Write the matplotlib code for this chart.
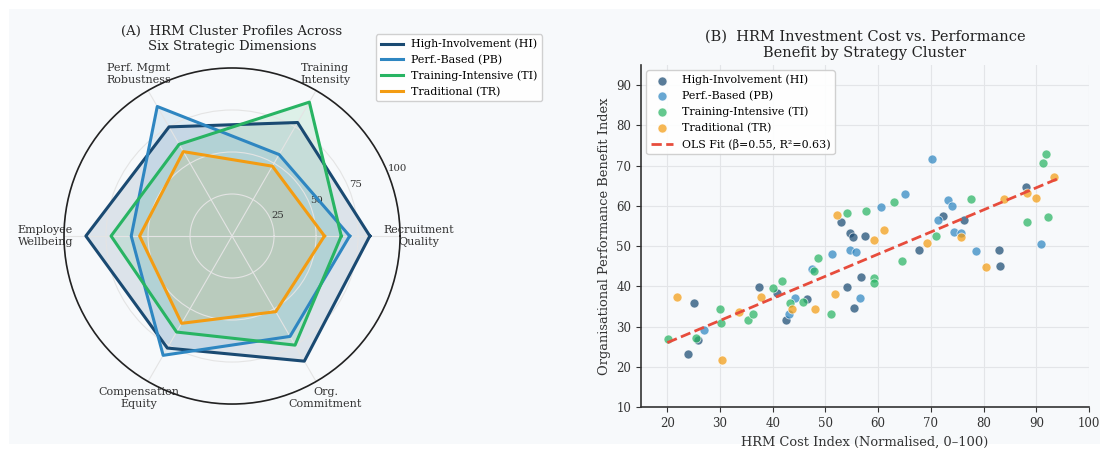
import numpy as np
import matplotlib
matplotlib.use("Agg")
import matplotlib.pyplot as plt
from matplotlib.patches import Rectangle

plt.rcParams['font.family'] = ['DejaVu Serif', 'DejaVu Sans']

# --- radar data ---
dimensions = ["Recruitment\nQuality", "Training\nIntensity", "Perf. Mgmt\nRobustness",
              "Employee\nWellbeing", "Compensation\nEquity", "Org.\nCommitment"]
clusters = ["High-Involvement (HI)", "Perf.-Based (PB)",
            "Training-Intensive (TI)", "Traditional (TR)"]
hi_profile = [82, 78, 75, 87, 77, 86]
pb_profile = [70, 56, 89, 60, 82, 69]
ti_profile = [65, 92, 63, 72, 66, 75]
tr_profile = [55, 48, 58, 55, 60, 52]
colors = ["#1a4a72", "#2e86c1", "#28b463", "#f39c12"]

# --- scatter data (cost, benefit) ---
hi_cost = [25.0, 24.0, 25.8, 37.3, 40.8, 42.6, 46.5, 53.0, 54.6, 55.2, 57.5, 54.0,
           55.5, 56.8, 67.7, 72.3, 76.3, 83.0, 83.1, 88.0]
hi_benefit = [35.9, 23.1, 26.7, 39.9, 38.4, 31.7, 36.9, 56.0, 53.3, 52.3, 52.4, 39.9,
              34.7, 42.4, 49.0, 57.5, 56.4, 49.0, 45.0, 64.8]
pb_cost = [27.0, 43.0, 44.3, 47.5, 51.2, 54.7, 55.8, 56.5, 60.5, 65.1, 70.2, 71.3,
           73.3, 74.0, 74.3, 75.7, 78.5, 90.9]
pb_benefit = [29.1, 33.0, 37.1, 44.2, 48.1, 49.0, 48.6, 37.0, 59.6, 62.9, 71.6, 56.4,
              61.4, 60.0, 53.6, 53.2, 48.7, 50.4]
ti_cost = [20.1, 25.5, 29.9, 30.1, 35.4, 36.2, 40.1, 41.7, 43.2, 45.8, 47.9, 48.6,
           51.0, 54.1, 57.6, 59.2, 59.2, 63.0, 64.6, 71.0, 77.7, 88.2, 91.2, 91.8, 92.3]
ti_benefit = [27.0, 27.1, 34.4, 30.9, 31.7, 33.2, 39.7, 41.2, 35.8, 36.0, 43.7, 47.0,
              33.0, 58.3, 58.6, 42.1, 40.9, 61.0, 46.2, 52.4, 61.6, 56.1, 70.6, 73.0, 57.2]
tr_cost = [21.9, 30.3, 33.6, 37.7, 43.6, 48.0, 51.9, 52.1, 59.3, 61.1, 69.3, 75.7,
           80.4, 83.8, 88.3, 89.9, 93.3]
tr_benefit = [37.3, 21.7, 33.5, 37.3, 34.4, 34.4, 38.2, 57.6, 51.5, 54.0, 50.8, 52.3,
              44.8, 61.6, 63.3, 61.9, 67.1]
ols_intercept = 15.0
ols_slope = 0.55
ols_range = [20, 94.5]

bg = "#f7f9fb"
fig = plt.figure(figsize=(11, 4.53), dpi=100, facecolor="white")
fig.patches.append(Rectangle((9 / 1100, 9 / 453), 1 - 9 / 1100, 1 - 18 / 453,
                             transform=fig.transFigure, facecolor=bg,
                             edgecolor="none", zorder=-10))

# ---------------- (A) radar ----------------
ax1 = fig.add_axes([0.0582, 0.106, 0.3055, 0.746], projection="polar")
ax1.set_facecolor(bg)
angles = np.linspace(0, 2 * np.pi, len(dimensions), endpoint=False)
closed = np.concatenate([angles, angles[:1]])
for name, vals, c in zip(clusters, [hi_profile, pb_profile, ti_profile, tr_profile], colors):
    v = np.concatenate([vals, vals[:1]])
    ax1.plot(closed, v, color=c, lw=2.2, label=name)
    ax1.fill(closed, v, color=c, alpha=0.12)
ax1.set_ylim(0, 100)
ax1.set_yticks([25, 50, 75, 100])
ax1.set_yticklabels(["25", "50", "75", "100"], fontsize=7.3, color="#333333")
ax1.set_rlabel_position(22)
ax1.set_xticks(angles)
ax1.set_xticklabels(dimensions, fontsize=8, color="#333333")
ax1.tick_params(axis="x", pad=3)
ax1.grid(color="#e4e4e4", lw=0.8)
ax1.spines["polar"].set_color("#222222")
ax1.spines["polar"].set_linewidth(1.2)
ax1.set_title("(A)  HRM Cluster Profiles Across\nSix Strategic Dimensions",
              fontsize=9.5, color="#222222", pad=13)
fig.legend(*ax1.get_legend_handles_labels(), loc="upper left",
           bbox_to_anchor=(0.337, 0.936), fontsize=7.9, frameon=True,
           facecolor="white", edgecolor="#cccccc", framealpha=0.9,
           handlelength=2.0, borderpad=0.4, labelspacing=0.5)

# ---------------- (B) scatter ----------------
ax2 = fig.add_axes([0.5827, 0.1015, 0.4073, 0.755])
ax2.set_facecolor(bg)
for name, xs, ys, c in zip(clusters, [hi_cost, pb_cost, ti_cost, tr_cost],
                           [hi_benefit, pb_benefit, ti_benefit, tr_benefit], colors):
    ax2.scatter(xs, ys, s=42, color=c, alpha=0.72, edgecolor="white", lw=0.6,
                label=name, zorder=3)
lx = np.array(ols_range)
ax2.plot(lx, ols_intercept + ols_slope * lx, ls="--", color="#e74c3c", lw=2,
         label="OLS Fit (β=0.55, R²=0.63)", zorder=4)
ax2.set_xlim(15, 100)
ax2.set_ylim(10, 95)
ax2.set_xticks(np.arange(20, 101, 10))
ax2.set_yticks(np.arange(10, 91, 10))
ax2.tick_params(labelsize=8.5, colors="#333333")
ax2.grid(color="#e3e5e8", lw=0.8)
ax2.set_axisbelow(True)
for s in ["top", "right"]:
    ax2.spines[s].set_visible(False)
for s in ["left", "bottom"]:
    ax2.spines[s].set_color("#333333")
    ax2.spines[s].set_linewidth(1.2)
ax2.set_xlabel("HRM Cost Index (Normalised, 0–100)", fontsize=9.4, color="#333333")
ax2.set_ylabel("Organisational Performance Benefit Index", fontsize=9.4, color="#333333")
ax2.set_title("(B)  HRM Investment Cost vs. Performance\nBenefit by Strategy Cluster",
              fontsize=10.5, color="#222222", pad=6)
ax2.legend(loc="upper left", fontsize=7.9, frameon=True, facecolor="white",
           edgecolor="#cccccc", framealpha=0.9, borderpad=0.4, labelspacing=0.5)

fig.savefig("out.png", dpi=100, facecolor=fig.get_facecolor())
